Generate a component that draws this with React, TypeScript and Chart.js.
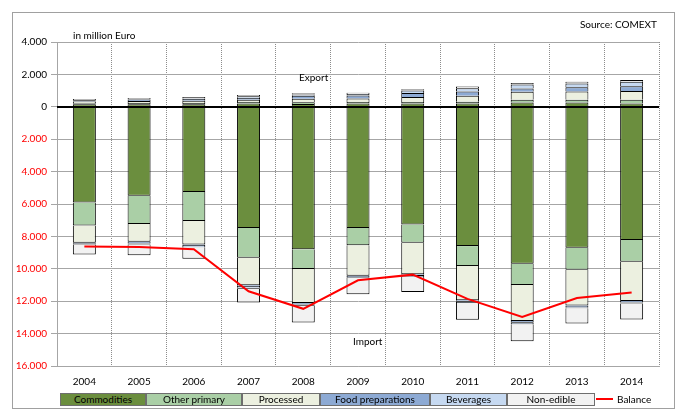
import React, { useEffect, useRef } from 'react';
import { Chart, registerables } from 'chart.js';

Chart.register(...registerables);

const years = ['2004', '2005', '2006', '2007', '2008', '2009', '2010', '2011', '2012', '2013', '2014'];

// Exports (million Euro, positive)
const expCommodities = [150, 150, 150, 200, 180, 200, 200, 200, 270, 270, 200];
const expOtherPrimary = [70, 80, 80, 100, 100, 90, 100, 110, 165, 165, 230];
const expProcessed = [110, 130, 150, 140, 220, 220, 300, 370, 490, 515, 540];
const expFoodPrep = [70, 90, 100, 120, 180, 180, 250, 270, 210, 260, 300];
const expBeverages = [20, 30, 40, 90, 80, 100, 150, 200, 240, 230, 270];
const expNonEdible = [60, 60, 80, 80, 80, 80, 90, 100, 90, 105, 110];

// Imports (million Euro, negative)
const impCommodities = [-5900, -5490, -5260, -7475, -8790, -7475, -7270, -8600, -9690, -8705, -8215];
const impOtherPrimary = [-1430, -1740, -1785, -1845, -1230, -1065, -1125, -1230, -1310, -1350, -1350];
const impProcessed = [-1065, -1105, -1455, -1700, -2090, -1885, -1945, -2110, -2215, -2215, -2420];
const impFoodPrep = [-60, -100, -100, -120, -100, -90, -100, -100, -120, -100, -100];
const impBeverages = [-40, -60, -64, -85, -64, -55, -64, -64, -85, -64, -64];
const impNonEdible = [-618, -676, -717, -860, -1045, -1004, -922, -1045, -1045, -943, -984];

// Trade balance
const balance = [-8620, -8660, -8790, -11390, -12470, -10710, -10360, -11860, -12970, -11800, -11470];

const yTickMin = -16000;
const yTickMax = 4000;
const yTickStep = 2000;

const categoryNames = ['Commodities', 'Other primary', 'Processed', 'Food preparations', 'Beverages', 'Non-edible'];
const categoryColors = ['#6B8E3E', '#AACFA6', '#ECF0E0', '#8DAAD4', '#C6D9F1', '#F2F2F2'];

const legendBoxes = [
  { left: 60, width: 86 },
  { left: 146, width: 96 },
  { left: 242, width: 78 },
  { left: 320, width: 110 },
  { left: 430, width: 77 },
  { left: 507, width: 88 },
];

const FONT = 'Lato, "Open Sans", sans-serif';

function fmt(v: number): string {
  const s = Math.abs(Math.round(v)).toString();
  return s.replace(/\B(?=(\d{3})+(?!\d))/g, '.');
}

export default function App() {
  const ref = useRef<HTMLCanvasElement>(null);

  useEffect(() => {
    document.body.style.margin = '0';
    const canvas = ref.current;
    if (!canvas) return;

    const exportSets = [expCommodities, expOtherPrimary, expProcessed, expFoodPrep, expBeverages, expNonEdible];
    const importSets = [impCommodities, impOtherPrimary, impProcessed, impFoodPrep, impBeverages, impNonEdible];

    const barBase = {
      type: 'bar' as const,
      stack: 'trade',
      borderColor: '#000000',
      borderWidth: 1,
      barPercentage: 0.42,
      categoryPercentage: 1,
      order: 2,
    };

    const datasets: any[] = [];
    exportSets.forEach((d, i) => {
      datasets.push({ ...barBase, label: categoryNames[i] + ' export', data: d, backgroundColor: categoryColors[i] });
    });
    importSets.forEach((d, i) => {
      datasets.push({ ...barBase, label: categoryNames[i] + ' import', data: d, backgroundColor: categoryColors[i] });
    });
    datasets.push({
      type: 'line',
      label: 'Balance',
      data: balance,
      stack: 'balance',
      borderColor: '#FF0000',
      borderWidth: 2,
      pointRadius: 0,
      tension: 0,
      fill: false,
      order: 0,
    });

    const zeroLine = {
      id: 'zeroLine',
      afterDatasetsDraw(chart: any) {
        const { ctx, chartArea, scales } = chart;
        const y = Math.round(scales.y.getPixelForValue(0));
        ctx.save();
        ctx.strokeStyle = '#000000';
        ctx.lineWidth = 2;
        ctx.beginPath();
        ctx.moveTo(chartArea.left, y);
        ctx.lineTo(chartArea.right, y);
        ctx.stroke();
        ctx.restore();
      },
    };

    const chart = new Chart(canvas, {
      type: 'bar',
      data: { labels: years, datasets },
      plugins: [zeroLine],
      options: {
        responsive: false,
        animation: false,
        layout: { padding: { left: 0, right: 20, top: 42, bottom: 0 } },
        plugins: { legend: { display: false }, tooltip: { enabled: false } },
        font: { family: FONT, size: 10 },
        scales: {
          x: {
            stacked: true,
            offset: true,
            grid: {
              offset: true,
              color: '#8C8C8C',
              lineWidth: 1,
              drawTicks: false,
            },
            border: { display: true, color: '#A6A6A6', dash: [1, 1] },
            ticks: { color: '#000000', padding: 10, font: { family: FONT, size: 10 } },
            afterFit: (scale: any) => { scale.height = 44; },
          },
          y: {
            stacked: true,
            min: yTickMin,
            max: yTickMax,
            grid: {
              color: '#A6A6A6',
              lineWidth: 1,
              drawTicks: true,
              tickLength: 6,
            },
            border: { display: true, color: '#A6A6A6' },
            ticks: {
              stepSize: yTickStep,
              padding: 4,
              font: { family: FONT, size: 10 },
              color: (c: any) => (c.tick && c.tick.value < 0 ? '#FF0000' : '#000000'),
              callback: (v: any) => fmt(Number(v)),
            },
            afterFit: (scale: any) => { scale.width = 57; },
          },
        },
      } as any,
    });

    return () => chart.destroy();
  }, []);

  const textStyle: React.CSSProperties = {
    position: 'absolute',
    fontFamily: FONT,
    fontSize: 10,
    color: '#000',
    whiteSpace: 'nowrap',
    lineHeight: '12px',
  };

  return (
    <div style={{ position: 'relative', width: 679, height: 410, background: '#fff', overflow: 'hidden' }}>
      <canvas ref={ref} width={679} height={410} style={{ position: 'absolute', left: 0, top: 0 }} />
      <div style={{ position: 'absolute', left: 12, top: 12, width: 663, height: 397, border: '1px solid #A0A0A0', boxSizing: 'border-box', pointerEvents: 'none' }} />
      <div style={{ ...textStyle, left: 73, top: 29 }}>in million Euro</div>
      <div style={{ ...textStyle, right: 22, top: 18 }}>Source: COMEXT</div>
      <div style={{ ...textStyle, left: 299, top: 71 }}>Export</div>
      <div style={{ ...textStyle, left: 353, top: 335 }}>Import</div>
      {categoryNames.map((name, i) => (
        <div
          key={name}
          style={{
            ...textStyle,
            left: legendBoxes[i].left,
            top: 393,
            width: legendBoxes[i].width,
            height: 13,
            boxSizing: 'border-box',
            border: '1px solid #6E6E6E',
            background: categoryColors[i],
            textAlign: 'center',
            lineHeight: '11px',
          }}
        >
          {name}
        </div>
      ))}
      <div style={{ position: 'absolute', left: 596, top: 398, width: 17, height: 2, background: '#FF0000' }} />
      <div style={{ ...textStyle, left: 617, top: 393 }}>Balance</div>
    </div>
  );
}
